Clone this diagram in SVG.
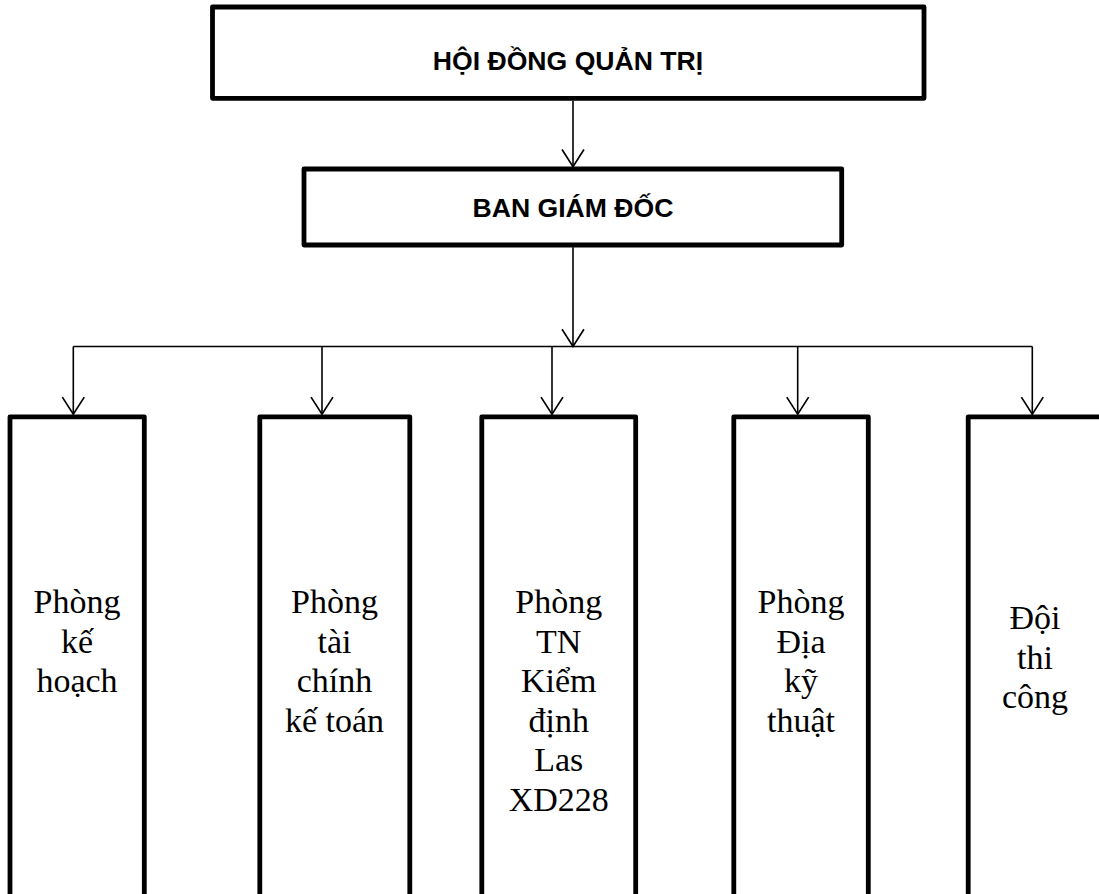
<svg xmlns="http://www.w3.org/2000/svg" width="1099" height="894" viewBox="0 0 1099 894">
<style>
.box{fill:#fff;stroke:#000;stroke-width:4.8;stroke-linejoin:round}
.conn{fill:none;stroke:#000;stroke-width:1.6}
.hd{font-family:"Liberation Sans",Arial,sans-serif;font-weight:bold;font-size:26.6px;fill:#000;text-anchor:middle}
.lb{font-family:"Liberation Serif","Times New Roman",serif;font-size:34px;fill:#000;text-anchor:middle}
</style>
<defs>
<marker id="arr" markerUnits="userSpaceOnUse" markerWidth="24" markerHeight="24" viewBox="-1 -1 19 23" refX="16.5" refY="10.5" orient="auto" overflow="visible">
<path d="M0,0 L16.5,10.5 L0,21" fill="none" stroke="#000" stroke-width="1.6"/>
</marker>
</defs>
<rect width="1099" height="894" fill="#fff"/>
<g id="connectors">
<line class="conn" x1="573" y1="100.7" x2="573" y2="166.7" marker-end="url(#arr)"/>
<line class="conn" x1="573" y1="247.3" x2="573" y2="346.5" marker-end="url(#arr)"/>
<line class="conn" x1="73.3" y1="346.5" x2="1032.3" y2="346.5"/>
<line class="conn" x1="73.3" y1="346.5" x2="73.3" y2="414.3" marker-end="url(#arr)"/>
<line class="conn" x1="322" y1="346.5" x2="322" y2="414.3" marker-end="url(#arr)"/>
<line class="conn" x1="552" y1="346.5" x2="552" y2="414.3" marker-end="url(#arr)"/>
<line class="conn" x1="797.7" y1="346.5" x2="797.7" y2="414.3" marker-end="url(#arr)"/>
<line class="conn" x1="1032.3" y1="346.5" x2="1032.3" y2="414.3" marker-end="url(#arr)"/>
</g>
<g id="hdqt">
<rect class="box" x="212.5" y="7" width="711.5" height="91.3"/>
<text class="hd" x="568" y="70">HỘI ĐỒNG QUẢN TRỊ</text>
</g>
<g id="bgd">
<rect class="box" x="304" y="169" width="537.7" height="76"/>
<text class="hd" x="573" y="216.5">BAN GIÁM ĐỐC</text>
</g>
<g id="phong-ke-hoach">
<rect class="box" x="10" y="416.8" width="134.3" height="500"/>
<text class="lb" x="77" y="613.3">Phòng</text>
<text class="lb" x="77" y="652.8">kế</text>
<text class="lb" x="77" y="692.3">hoạch</text>
</g>
<g id="phong-tai-chinh">
<rect class="box" x="259.8" y="416.8" width="150" height="500"/>
<text class="lb" x="334.5" y="613.3">Phòng</text>
<text class="lb" x="334.5" y="652.8">tài</text>
<text class="lb" x="334.5" y="692.3">chính</text>
<text class="lb" x="334.5" y="731.8">kế toán</text>
</g>
<g id="phong-tn">
<rect class="box" x="481.8" y="416.8" width="153.9" height="500"/>
<text class="lb" x="558.7" y="613.3">Phòng</text>
<text class="lb" x="558.7" y="652.8">TN</text>
<text class="lb" x="558.7" y="692.3">Kiểm</text>
<text class="lb" x="558.7" y="731.8">định</text>
<text class="lb" x="558.7" y="771.3">Las</text>
<text class="lb" x="558.7" y="810.8">XD228</text>
</g>
<g id="phong-dia">
<rect class="box" x="733.8" y="416.8" width="134.5" height="500"/>
<text class="lb" x="801" y="613.3">Phòng</text>
<text class="lb" x="801" y="652.8">Địa</text>
<text class="lb" x="801" y="692.3">kỹ</text>
<text class="lb" x="801" y="731.8">thuật</text>
</g>
<g id="doi-thi-cong">
<rect class="box" x="968.2" y="416.8" width="135" height="500"/>
<text class="lb" x="1035" y="629">Đội</text>
<text class="lb" x="1035" y="668.5">thi</text>
<text class="lb" x="1035" y="708">công</text>
</g>
</svg>
